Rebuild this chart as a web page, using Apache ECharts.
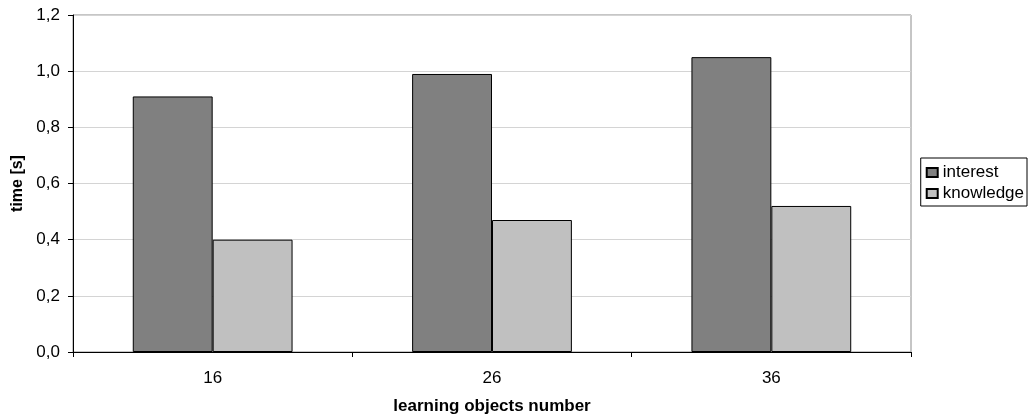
<!DOCTYPE html>
<html>
<head>
<meta charset="utf-8">
<script src="https://cdn.jsdelivr.net/npm/echarts@6/dist/echarts.min.js"></script>
<style>
  html, body { margin: 0; padding: 0; background: #fff; }
  #chart { width: 1029px; height: 416px; }
</style>
</head>
<body>
<div id="chart"></div>
<script>
// Response time by number of learning objects
const categories = ['16', '26', '36'];
const interest = [0.91, 0.99, 1.05];
const knowledge = [0.40, 0.47, 0.52];
const yTicks = { min: 0, max: 1.2, step: 0.2 };

const FONT = 'Liberation Sans, Arial, sans-serif';
const chart = echarts.init(document.getElementById('chart'));

chart.setOption({
  backgroundColor: '#ffffff',
  animation: false,
  textStyle: { fontFamily: FONT, color: '#000' },
  grid: {
    left: 73, right: 118, top: 15, bottom: 64,
    containLabel: false, outerBoundsMode: 'none',
    show: true, borderColor: '#8c8c8c', borderWidth: 1, backgroundColor: 'transparent'
  },
  legend: {
    right: 2, top: 158,
    orient: 'vertical',
    icon: 'rect',
    itemWidth: 11, itemHeight: 9, itemGap: 4,
    padding: [6, 3, 4, 5],
    borderColor: '#000', borderWidth: 1,
    textStyle: { fontFamily: FONT, fontSize: 17, color: '#000' },
    data: ['interest', 'knowledge']
  },
  xAxis: {
    type: 'category',
    data: categories,
    name: 'learning objects number',
    nameLocation: 'middle',
    nameGap: 46,
    nameTextStyle: { fontFamily: FONT, fontSize: 17, fontWeight: 'bold', color: '#000' },
    axisLine: { lineStyle: { color: '#000', width: 1 } },
    axisTick: { show: true, alignWithLabel: false, length: 5, lineStyle: { color: '#000' } },
    axisLabel: { fontFamily: FONT, fontSize: 17, color: '#000', margin: 18 },
    splitLine: { show: false }
  },
  yAxis: {
    type: 'value',
    min: yTicks.min, max: yTicks.max, interval: yTicks.step,
    name: 'time [s]',
    nameLocation: 'middle',
    nameRotate: 90,
    nameGap: 47,
    nameTextStyle: { fontFamily: FONT, fontSize: 16, fontWeight: 'bold', color: '#000' },
    axisLine: { show: true, lineStyle: { color: '#000', width: 1 } },
    axisTick: { show: true, length: 5, lineStyle: { color: '#000' } },
    axisLabel: {
      fontFamily: FONT, fontSize: 17, color: '#000', margin: 13,
      formatter: v => v.toFixed(1).replace('.', ',')
    },
    splitLine: { show: true, lineStyle: { color: '#d4d4d4', width: 1 } }
  },
  series: [
    {
      name: 'interest', type: 'bar', data: interest,
      barGap: '0%', barCategoryGap: '42.8%',
      itemStyle: { color: '#808080', borderColor: '#000', borderWidth: 1 }
    },
    {
      name: 'knowledge', type: 'bar', data: knowledge,
      barGap: '0%', barCategoryGap: '42.8%',
      itemStyle: { color: '#c0c0c0', borderColor: '#000', borderWidth: 1 }
    }
  ]
});
</script>
</body>
</html>
